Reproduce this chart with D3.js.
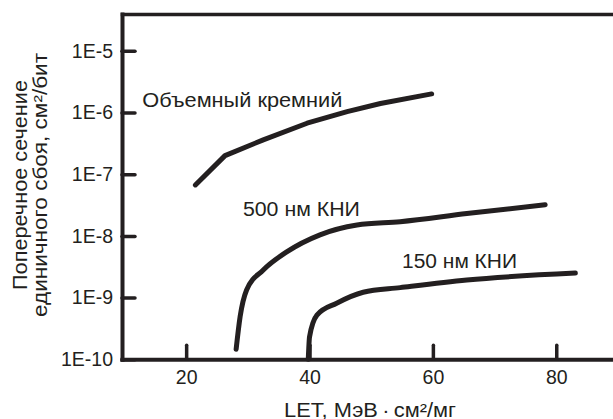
<!DOCTYPE html>
<html>
<head>
<meta charset="utf-8">
<script src="https://cdn.jsdelivr.net/npm/d3@7"></script>
<style>
  html, body { margin: 0; padding: 0; background: #fff; }
  svg { display: block; }
  text { font-family: "Liberation Sans", Arial, sans-serif; fill: #231f20; }
</style>
</head>
<body>
<svg id="chart" width="613" height="419"></svg>
<script>
// LET values (MeV·cm²/mg) and per-bit SEU cross-sections (cm²/bit)
const bulkLET   = [21.5, 26.3, 32.5, 39.6, 46.1, 51.5, 59.8];
const bulkSigma = [6.7e-8, 2.0e-7, 3.6e-7, 6.7e-7, 1.03e-6, 1.4e-6, 2.0e-6];

const soi500LET   = [28.1, 28.75, 29.8, 32.5, 36.3, 41.7, 47.7, 54.7, 65.5, 78.2];
const soi500Sigma = [1.45e-10, 4.9e-10, 1.33e-9, 2.8e-9, 5.5e-9, 1.04e-8, 1.5e-8, 1.7e-8, 2.3e-8, 3.2e-8];

const soi150LET   = [39.8, 40.0, 41.2, 44.4, 48.7, 54.7, 65.5, 83.1];
const soi150Sigma = [1.0e-10, 2.3e-10, 5.2e-10, 8.1e-10, 1.22e-9, 1.45e-9, 1.93e-9, 2.5e-9];

const seriesNames = ["Объемный кремний", "500 нм КНИ", "150 нм КНИ"];

const xTicks = [20, 40, 60, 80];
const yTicks = [1e-10, 1e-9, 1e-8, 1e-7, 1e-6, 1e-5];
const yTickLabels = ["1E-10", "1E-9", "1E-8", "1E-7", "1E-6", "1E-5"];

const xTitle = "LET, МэВ\u2009·\u2009см²/мг";
const yTitle1 = "Поперечное сечение";
const yTitle2 = "единичного сбоя, см²/бит";

const ink = "#231f20";
const svg = d3.select("#chart");

const plotLeft = 122, plotRight = 613, plotTop = 14, plotBottom = 359.3;

const x = d3.scaleLinear().domain([9.6, 89.2]).range([plotLeft, plotRight]);
const y = d3.scaleLog().domain([1e-10, Math.pow(10, -4.404)]).range([plotBottom, plotTop]);

// Axes with inward ticks
const gx = svg.append("g")
  .attr("transform", `translate(0,${plotBottom})`)
  .call(d3.axisBottom(x).tickValues(xTicks).tickFormat(d3.format("d"))
    .tickSizeInner(-14).tickSizeOuter(0).tickPadding(11));

const gy = svg.append("g")
  .attr("transform", `translate(${plotLeft},0)`)
  .call(d3.axisLeft(y).tickValues(yTicks)
    .tickFormat((d, i) => yTickLabels[i])
    .tickSizeInner(-13).tickSizeOuter(0).tickPadding(9));

const gt = svg.append("g")
  .attr("transform", `translate(0,${plotTop})`)
  .call(d3.axisTop(x).tickValues([]).tickSizeOuter(0));

[gx, gy, gt].forEach(g => {
  g.select(".domain").attr("stroke", ink).attr("stroke-width", 4).attr("stroke-linecap", "square");
  g.selectAll(".tick line").attr("stroke", ink).attr("stroke-width", 3.5).attr("stroke-linecap", "round");
  g.selectAll(".tick text").attr("font-size", 19.5).attr("font-family", "Liberation Sans, Arial, sans-serif").attr("fill", ink);
});
gt.select(".domain").attr("stroke-width", 3.5);

// Curves
const line = d3.line()
  .x(d => x(d[0]))
  .y(d => y(d[1]));

function drawSeries(lets, sigmas, curve) {
  const pts = lets.map((v, i) => [v, sigmas[i]]);
  svg.append("path")
    .datum(pts)
    .attr("fill", "none")
    .attr("stroke", ink)
    .attr("stroke-width", 5)
    .attr("stroke-linecap", "round")
    .attr("stroke-linejoin", "round")
    .attr("d", line.curve(curve)(pts));
}

drawSeries(bulkLET, bulkSigma, d3.curveLinear);
drawSeries(soi500LET, soi500Sigma, d3.curveMonotoneX);
drawSeries(soi150LET, soi150Sigma, d3.curveMonotoneX);

// Series labels (anchored in data coordinates)
const labelPos = [
  { name: seriesNames[0], lx: 12.9, ly: 1.23e-6, len: 200 },
  { name: seriesNames[1], lx: 29.2, ly: 2.12e-8, len: 117 },
  { name: seriesNames[2], lx: 55.0, ly: 2.99e-9, len: 115 }
];
svg.selectAll(".series-label")
  .data(labelPos)
  .join("text")
  .attr("class", "series-label")
  .attr("x", d => x(d.lx))
  .attr("y", d => y(d.ly))
  .attr("font-size", 19.5)
  .attr("textLength", d => d.len)
  .attr("lengthAdjust", "spacingAndGlyphs")
  .text(d => d.name);

// Axis titles
svg.append("text")
  .attr("x", 284)
  .attr("y", 416.5)
  .attr("font-size", 19.5)
  .attr("textLength", 172)
  .attr("lengthAdjust", "spacingAndGlyphs")
  .text(xTitle);

const yt = svg.append("text")
  .attr("transform", "translate(0,185) rotate(-90)")
  .attr("font-size", 19.5);
yt.append("tspan").attr("x", -105).attr("y", 27)
  .attr("textLength", 210).attr("lengthAdjust", "spacingAndGlyphs").text(yTitle1);
yt.append("tspan").attr("x", -132).attr("y", 47)
  .attr("textLength", 264).attr("lengthAdjust", "spacingAndGlyphs").text(yTitle2);
</script>
</body>
</html>
